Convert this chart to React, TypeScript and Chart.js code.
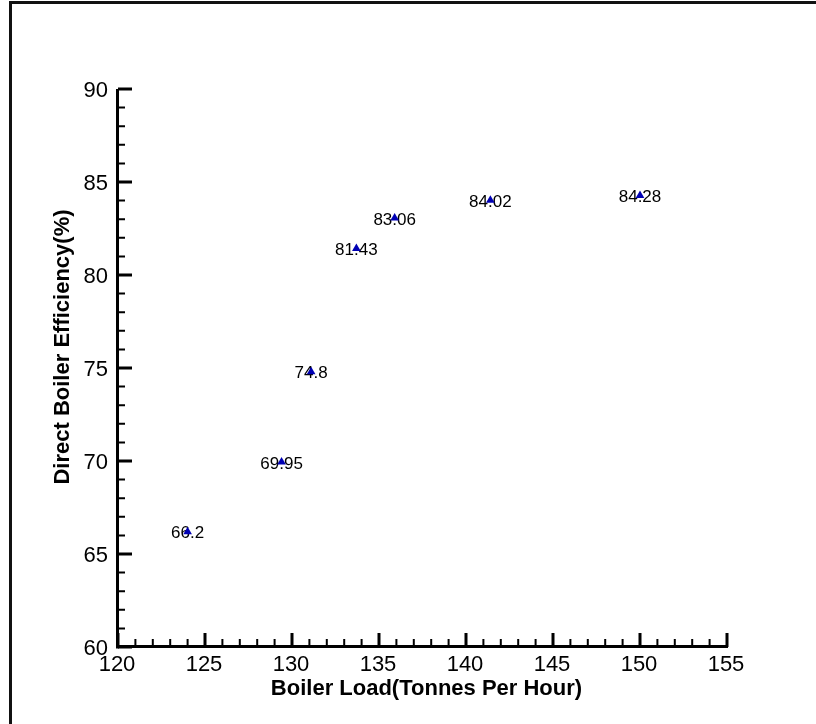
import { useEffect, useRef } from "react";
import { Chart, registerables } from "chart.js";

Chart.register(...registerables);

// ---- data ----
const boilerLoad = [124.0, 129.4, 131.1, 133.7, 135.9, 141.4, 150.0];
const efficiency = [66.2, 69.95, 74.8, 81.43, 83.06, 84.02, 84.28];
const pointLabels = ["66.2", "69.95", "74.8", "81.43", "83.06", "84.02", "84.28"];

const xMajorTicks = [120, 125, 130, 135, 140, 145, 150, 155];
const yMajorTicks = [60, 65, 70, 75, 80, 85, 90];
const xMinorTicks = [121, 122, 123, 124, 126, 127, 128, 129, 131, 132, 133, 134, 136, 137, 138, 139, 141, 142, 143, 144, 146, 147, 148, 149, 151, 152, 153, 154];
const yMinorTicks = [61, 62, 63, 64, 66, 67, 68, 69, 71, 72, 73, 74, 76, 77, 78, 79, 81, 82, 83, 84, 86, 87, 88, 89];

const xTitle = "Boiler Load(Tonnes Per Hour)";
const yTitle = "Direct Boiler Efficiency(%)";

const FONT = "'Liberation Sans', Arial, sans-serif";

const decorPlugin = {
  id: "decor",
  beforeDraw(chart: any) {
    const ctx = chart.ctx;
    ctx.save();
    ctx.fillStyle = "#ffffff";
    ctx.fillRect(0, 0, chart.width, chart.height);
    // frame
    ctx.strokeStyle = "#111111";
    ctx.lineWidth = 3;
    ctx.beginPath();
    ctx.moveTo(10.5, chart.height);
    ctx.lineTo(10.5, 2.5);
    ctx.lineTo(chart.width, 2.5);
    ctx.stroke();
    ctx.restore();
  },
  beforeDatasetsDraw(chart: any) {
    const ctx = chart.ctx;
    const xs = chart.scales.x;
    const ys = chart.scales.y;
    const x0 = xs.getPixelForValue(xs.min);
    const x1 = xs.getPixelForValue(xs.max);
    const y0 = ys.getPixelForValue(ys.min);
    const y1 = ys.getPixelForValue(ys.max);
    ctx.save();
    ctx.strokeStyle = "#000";
    ctx.lineCap = "butt";
    // axes
    ctx.lineWidth = 3;
    ctx.beginPath();
    ctx.moveTo(x0 - 0.5, y1);
    ctx.lineTo(x0 - 0.5, y0 + 1.5);
    ctx.moveTo(x0 - 2, y0 - 0.5);
    ctx.lineTo(x1 + 1, y0 - 0.5);
    ctx.stroke();
    // major ticks
    ctx.lineWidth = 3;
    ctx.beginPath();
    xMajorTicks.forEach((v) => {
      const px = xs.getPixelForValue(v);
      ctx.moveTo(px, y0);
      ctx.lineTo(px, y0 - 14);
    });
    yMajorTicks.forEach((v) => {
      const py = ys.getPixelForValue(v);
      ctx.moveTo(x0, py);
      ctx.lineTo(x0 + 14, py);
    });
    ctx.stroke();
    // minor ticks
    ctx.lineWidth = 2;
    ctx.beginPath();
    xMinorTicks.forEach((v) => {
      const px = xs.getPixelForValue(v);
      ctx.moveTo(px, y0);
      ctx.lineTo(px, y0 - 8);
    });
    yMinorTicks.forEach((v) => {
      const py = ys.getPixelForValue(v);
      ctx.moveTo(x0, py);
      ctx.lineTo(x0 + 7, py);
    });
    ctx.stroke();
    // tick labels
    ctx.fillStyle = "#000";
    ctx.font = `22px ${FONT}`;
    ctx.textAlign = "center";
    ctx.textBaseline = "alphabetic";
    xMajorTicks.forEach((v) => {
      const px = xs.getPixelForValue(v);
      ctx.fillText(String(v), px - 1, y0 + 24);
    });
    ctx.textAlign = "right";
    yMajorTicks.forEach((v) => {
      const py = ys.getPixelForValue(v);
      ctx.fillText(String(v), x0 - 10, py + 8);
    });
    // axis titles
    ctx.font = `bold 22px ${FONT}`;
    ctx.textAlign = "center";
    ctx.fillText(xTitle, (x0 + x1) / 2 + 4, y0 + 48);
    ctx.save();
    ctx.translate(x0 - 49, 347);
    ctx.rotate(-Math.PI / 2);
    ctx.fillText(yTitle, 0, 0);
    ctx.restore();
    // point labels
    ctx.font = `17px ${FONT}`;
    ctx.textAlign = "center";
    ctx.textBaseline = "middle";
    const meta = chart.getDatasetMeta(0);
    meta.data.forEach((pt: any, i: number) => {
      ctx.fillText(pointLabels[i], pt.x, pt.y + 2);
    });
    ctx.restore();
  },
};

export default function App() {
  const ref = useRef<HTMLCanvasElement>(null);
  useEffect(() => {
    if (!ref.current) return;
    const chart = new Chart(ref.current, {
      type: "scatter",
      data: {
        datasets: [
          {
            data: boilerLoad.map((x, i) => ({ x, y: efficiency[i] })),
            pointStyle: "triangle",
            pointRadius: 5,
            backgroundColor: "#0000b4",
            borderColor: "#0000b4",
            borderWidth: 0,
          },
        ],
      },
      options: {
        responsive: false,
        animation: false,
        layout: { padding: { left: 118, top: 89, right: 89, bottom: 77 } },
        plugins: { legend: { display: false }, tooltip: { enabled: false } },
        scales: {
          x: { type: "linear", min: 120, max: 155, display: false },
          y: { type: "linear", min: 60, max: 90, display: false },
        },
      },
      plugins: [decorPlugin],
    });
    return () => chart.destroy();
  }, []);
  return (
    <div style={{ position: "absolute", left: 0, top: 0, width: 816, height: 724 }}>
      <canvas ref={ref} width={816} height={724} style={{ display: "block" }} />
    </div>
  );
}
